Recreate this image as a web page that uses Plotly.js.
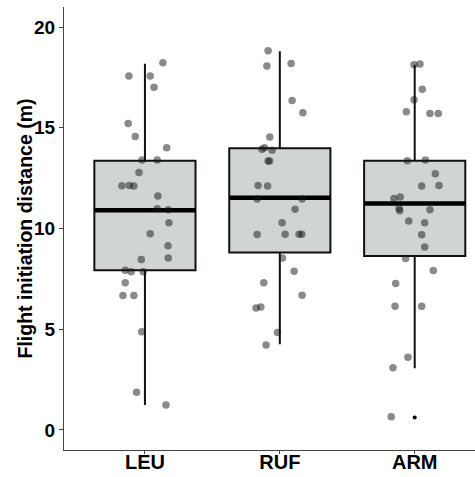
<!DOCTYPE html>
<html>
<head>
<meta charset="utf-8">
<script src="https://cdn.plot.ly/plotly-3.0.1.min.js"></script>
<style>html,body{margin:0;padding:0;background:#fff;}#chart{width:475px;height:477px;}</style>
</head>
<body>
<div id="chart"></div>
<script>
// Categories
var categories = ["LEU", "RUF", "ARM"];

// Box statistics
var lowerWhisker = [1.24, 4.25, 3.06];
var q1 = [7.93, 8.81, 8.64];
var medians = [10.91, 11.53, 11.24];
var q3 = [13.36, 13.98, 13.36];
var upperWhisker = [18.18, 18.8, 18.13];

// Raw points (values) and horizontal jitter
var leuValues = [18.23,17.57,17.57,17.01,15.22,14.57,14.01,13.40,13.40,12.78,12.12,12.14,12.11,11.61,10.98,10.93,10.28,9.74,9.14,8.46,8.53,7.93,7.85,7.85,7.30,6.67,6.67,4.87,1.87,1.23];
var leuJitter = [0.133,-0.119,0.039,0.067,-0.124,-0.072,0.161,-0.022,0.091,-0.044,-0.171,-0.116,-0.082,0.096,0.091,0.173,0.178,0.039,0.171,-0.027,0.173,-0.146,-0.102,-0.013,-0.146,-0.163,-0.082,-0.024,-0.062,0.156];

var rufValues = [18.83,18.07,18.20,16.36,15.75,14.54,13.93,14.01,13.88,13.35,13.35,12.14,12.11,11.46,11.46,10.96,10.28,9.70,9.72,9.72,9.72,8.53,7.88,7.30,6.69,6.05,6.10,4.83,4.22];
var rufJitter = [-0.087,-0.096,0.084,0.091,0.171,-0.074,-0.133,-0.113,-0.057,-0.087,-0.076,-0.161,-0.091,-0.168,0.165,0.113,0.017,-0.168,0.039,0.143,0.163,0.020,0.106,-0.119,0.165,-0.176,-0.141,-0.017,-0.102];

var armValues = [18.13,18.17,16.92,16.39,15.80,15.71,15.71,13.36,13.40,12.72,12.11,12.14,11.49,11.56,10.99,10.88,10.93,10.37,10.28,9.69,9.08,8.51,7.91,7.27,6.14,6.14,3.61,3.08,0.65];
var armJitter = [-0.005,0.039,0.056,-0.005,-0.062,0.113,0.175,-0.055,0.079,0.153,0.052,0.180,-0.154,-0.107,-0.116,-0.111,0.113,-0.044,0.074,0.052,0.074,-0.067,0.138,-0.141,-0.146,0.052,-0.050,-0.161,-0.174];

// Outliers (boxplot outlier points)
var outlierGroup = [2];
var outlierValues = [0.61];

var yTitle = 'Flight initiation distance (m)';
var yTicks = [0, 5, 10, 15, 20];

var groupValues = [leuValues, rufValues, armValues];
var groupJitter = [leuJitter, rufJitter, armJitter];

var boxWidth = 0.75;
var pos = categories.map(function(c, i){ return i; });

var traces = [];
traces.push({
  type: 'box',
  x: pos,
  q1: q1, median: medians, q3: q3,
  lowerfence: lowerWhisker, upperfence: upperWhisker,
  width: boxWidth,
  whiskerwidth: 0,
  fillcolor: '#d0d4d5',
  line: {color: '#111', width: 2},
  boxpoints: false,
  hoverinfo: 'skip',
  showlegend: false
});

// thick median lines
var mx = [], my = [];
pos.forEach(function(p, i){
  mx.push(p - boxWidth/2, p + boxWidth/2, null);
  my.push(medians[i], medians[i], null);
});
traces.push({type:'scatter', mode:'lines', x: mx, y: my, line:{color:'#000', width:4.5}, showlegend:false, hoverinfo:'skip'});

// outliers
traces.push({type:'scatter', mode:'markers', x: outlierGroup, y: outlierValues,
  marker:{color:'#000', size:4}, showlegend:false, hoverinfo:'skip'});

// jittered points
var px = [], py = [];
groupValues.forEach(function(vals, g){
  vals.forEach(function(v, k){ px.push(g + groupJitter[g][k]); py.push(v); });
});
traces.push({type:'scatter', mode:'markers', x: px, y: py,
  marker:{color:'rgba(20,22,24,0.5)', size:7.5, line:{width:0}}, showlegend:false, hoverinfo:'skip'});

var layout = {
  width: 475, height: 477,
  margin: {l:64, r:0, t:7, b:27},
  paper_bgcolor: '#fff', plot_bgcolor: '#fff',
  font: {family: '"Liberation Sans", Arial, sans-serif', color: '#000'},
  showlegend: false,
  xaxis: {
    range: [-0.6, 2.447],
    tickvals: pos, ticktext: categories,
    showgrid: false, zeroline: false,
    showline: true, linecolor: '#444', linewidth: 1,
    ticks: 'outside', ticklen: 3, tickcolor: '#444', tickwidth: 1,
    ticklabelstandoff: -9,
    tickfont: {size: 20, weight: 'bold', color: '#000'}
  },
  yaxis: {
    range: [-1, 21],
    tickvals: yTicks,
    showgrid: false, zeroline: false,
    showline: true, linecolor: '#444', linewidth: 1,
    ticks: 'outside', ticklen: 4, tickcolor: '#444', tickwidth: 1,
    tickfont: {size: 19, weight: 'bold', color: '#000'}
  },
  annotations: [{
    text: yTitle, textangle: -90,
    xref: 'paper', yref: 'paper',
    x: -40/411, y: 0.5, xanchor: 'center', yanchor: 'middle',
    showarrow: false,
    font: {size: 19.5, weight: 'bold', color: '#000'}
  }]
};

Plotly.newPlot('chart', traces, layout, {staticPlot: true, displayModeBar: false});
</script>
</body>
</html>
